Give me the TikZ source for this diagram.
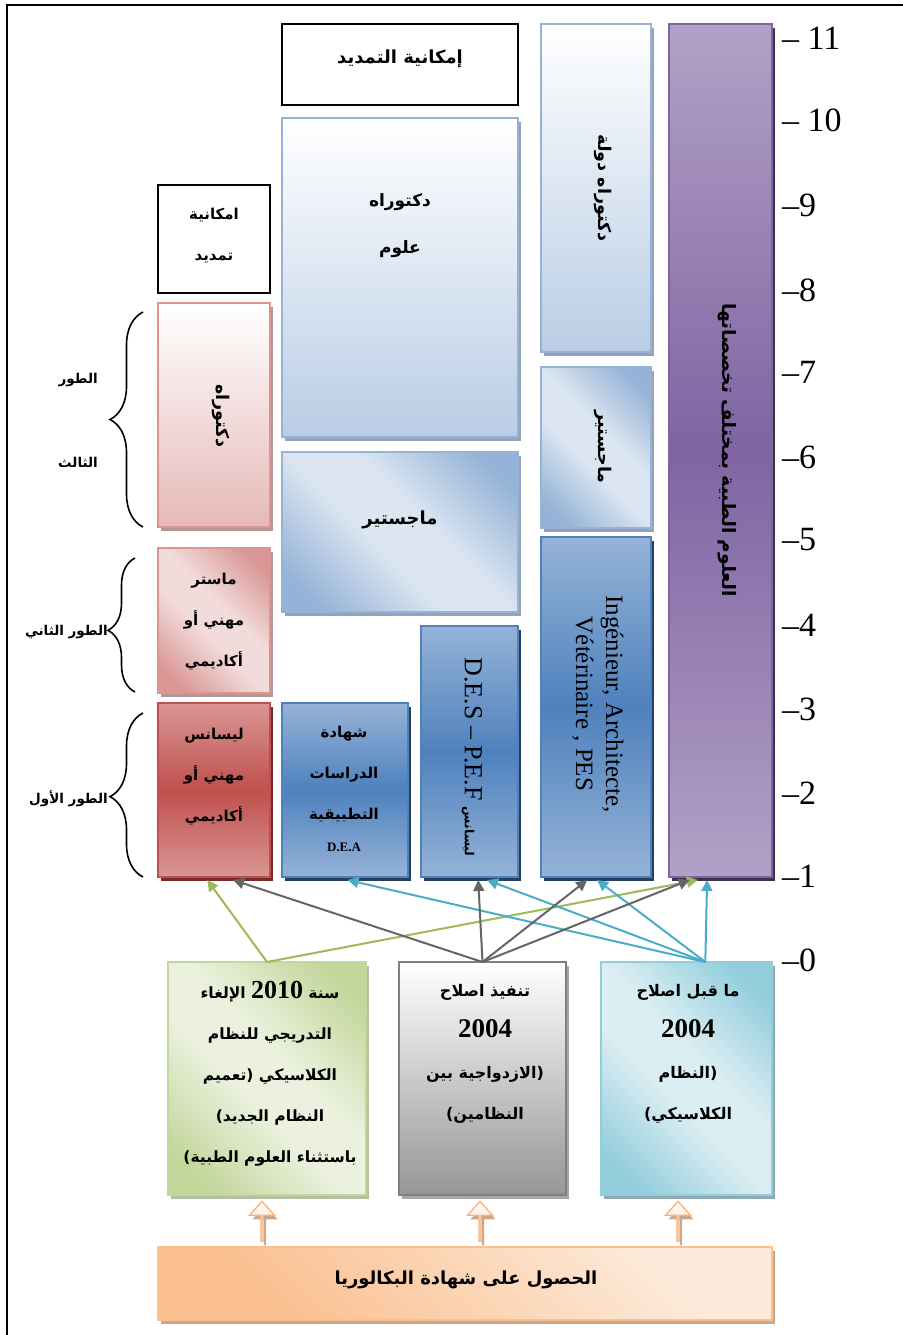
\documentclass[tikz,border=0pt]{standalone}
\usepackage{fontspec}
\setmainfont{Liberation Serif}
\newfontfamily\arb[Script=Arabic]{DejaVu Sans}
\TeXXeTstate=1
\usetikzlibrary{arrows.meta,calc,shadows,shapes.arrows,decorations.pathreplacing}

% palette
\definecolor{blueD}{HTML}{4F81BD}
\definecolor{blueM}{HTML}{95B3D7}
\definecolor{blueL}{HTML}{B9CDE5}
\definecolor{blueXL}{HTML}{DCE6F2}
\definecolor{redD}{HTML}{C0504D}
\definecolor{redM}{HTML}{D99694}
\definecolor{redL}{HTML}{E6B9B8}
\definecolor{redXL}{HTML}{F2DCDB}
\definecolor{greenD}{HTML}{9BBB59}
\definecolor{greenM}{HTML}{C3D69B}
\definecolor{greenXL}{HTML}{EBF1DE}
\definecolor{purD}{HTML}{8064A2}
\definecolor{purM}{HTML}{B2A1C7}
\definecolor{aquaD}{HTML}{4BACC6}
\definecolor{aquaM}{HTML}{92CDDC}
\definecolor{aquaXL}{HTML}{DBEEF3}
\definecolor{orgM}{HTML}{FAC090}
\definecolor{orgL}{HTML}{FCD5B5}
\definecolor{orgXL}{HTML}{FDEADA}
\definecolor{orgLine}{HTML}{F9B27B}
\definecolor{grayLine}{HTML}{7F7F7F}
\definecolor{grayM}{HTML}{969696}
\definecolor{arrGray}{HTML}{656565}
\definecolor{shBlue}{HTML}{243F60}
\definecolor{shRed}{HTML}{772C2A}
\definecolor{shPur}{HTML}{3F3151}
\definecolor{shLightBlue}{HTML}{95A3B6}
\definecolor{shPink}{HTML}{B89595}
\definecolor{shGreen}{HTML}{B5BFA3}
\definecolor{shGray}{HTML}{A6A6A6}
\definecolor{shAqua}{HTML}{8FAAB3}
\definecolor{shOrg}{HTML}{CBA88C}

% diagonal fills: darker corners, light band through the middle
\pgfdeclarehorizontalshading{diagblue}{100bp}{color(0bp)=(blueM); color(22bp)=(blueM); color(44bp)=(blueXL); color(56bp)=(blueXL); color(78bp)=(blueM); color(100bp)=(blueM)}
\pgfdeclarehorizontalshading{diagpink}{100bp}{color(0bp)=(redM); color(22bp)=(redM); color(44bp)=(redXL); color(56bp)=(redXL); color(78bp)=(redM); color(100bp)=(redM)}
\pgfdeclarehorizontalshading{diaggreen}{100bp}{color(0bp)=(greenM); color(22bp)=(greenM); color(44bp)=(greenXL); color(56bp)=(greenXL); color(78bp)=(greenM); color(100bp)=(greenM)}
\pgfdeclarehorizontalshading{diagaqua}{100bp}{color(0bp)=(aquaM); color(22bp)=(aquaM); color(44bp)=(aquaXL); color(56bp)=(aquaXL); color(78bp)=(aquaM); color(100bp)=(aquaM)}
\pgfdeclarehorizontalshading{diagorange}{100bp}{color(0bp)=(orgM); color(28bp)=(orgM); color(72bp)=(orgXL); color(100bp)=(orgXL)}

\newcommand\artxt[1]{{\arb\bfseries\beginR #1\endR}}

\tikzset{
  basebox/.style={rectangle, inner sep=0pt, outer sep=0pt, line width=1.8pt},
  shad/.style={drop shadow={shadow xshift=3pt, shadow yshift=-4pt, fill=#1, opacity=1}},
  plainbox/.style={basebox, draw=black, line width=1.5pt, fill=white},
  paleblue/.style={basebox, draw=blueM, top color=white, bottom color=blueL, shad=shLightBlue},
  diagbluebox/.style={basebox, draw=blueM, shading=diagblue, shading angle=45, shad=shLightBlue},
  deepblue/.style={basebox, draw=blueD, top color=blueM, bottom color=blueM, middle color=blueD, shad=shBlue},
  deepred/.style={basebox, draw=redD, top color=redM, bottom color=redM, middle color=redD, shad=shRed},
  palepink/.style={basebox, draw=redM, top color=white, bottom color=redL, shad=shPink},
  diagpinkbox/.style={basebox, draw=redM, shading=diagpink, shading angle=45, shad=shPink},
  purplebox/.style={basebox, draw=purD, top color=purM, bottom color=purM, middle color=purD, shad=shPur},
  greenbox/.style={basebox, draw=greenM, shading=diaggreen, shading angle=45, shad=shGreen},
  graybox/.style={basebox, draw=grayLine, top color=white, bottom color=grayM, shad=shGray},
  aquabox/.style={basebox, draw=aquaM, shading=diagaqua, shading angle=45, shad=shAqua},
  bacbox/.style={basebox, draw=orgM, shading=diagorange, shading angle=45, shad=shOrg},
  uparrow/.style={single arrow, shape border rotate=90, minimum height=40, minimum width=25,
    single arrow head extend=7pt, single arrow tip angle=84, inner sep=0pt,
    draw=orgLine, line width=1.3pt, top color=white, bottom color=orgL, shad=shOrg},
  txt/.style={inner sep=0pt, align=center, font=\fontsize{15}{41}\selectfont},
  rtxt/.style={inner sep=0pt, align=center, rotate=-90, font=\fontsize{17.5}{20}\selectfont},
  scalelbl/.style={inner sep=0pt, anchor=west, font=\fontsize{34}{34}\selectfont},
  bracelbl/.style={inner sep=0pt, font=\fontsize{13.5}{18}\selectfont},
  curly/.style={decorate, decoration={brace, amplitude=#1}, line width=1.6pt},
  conn/.style={draw=#1, line width=2pt, -{Triangle[length=11pt, width=11pt]}}
}

\begin{document}
\begin{tikzpicture}[x=1pt, y=-1pt]
\useasboundingbox (0,0) rectangle (902,1335);

% page frame
\draw[line width=2pt] (7,1345) -- (7,5) -- (912,5);

% extension boxes
\node[plainbox, minimum width=236, minimum height=81] (ext2) at (400,64.5) {};
\node[plainbox, minimum width=112, minimum height=108] (ext1) at (214,239) {};

% classic-system column
\node[paleblue, minimum width=236, minimum height=319] (docsci) at (400,277.5) {};
\node[diagbluebox, minimum width=236, minimum height=160] (magmid) at (400,532) {};
\node[deepblue, minimum width=97, minimum height=251] (des) at (469.5,751.5) {};
\node[deepblue, minimum width=126, minimum height=174] (dea) at (345,790) {};

% LMD column
\node[deepred, minimum width=112, minimum height=174] (lic) at (214,790) {};
\node[diagpinkbox, minimum width=112, minimum height=145] (mast) at (214,620.5) {};
\node[palepink, minimum width=112, minimum height=224] (docL) at (214,415) {};

% engineering column
\node[paleblue, minimum width=110, minimum height=328] (docst) at (596,188) {};
\node[diagbluebox, minimum width=110, minimum height=161] (magR) at (596,447.5) {};
\node[deepblue, minimum width=110, minimum height=340] (ing) at (596,707) {};

% medical column
\node[purplebox, minimum width=103, minimum height=853] (med) at (720.5,450.5) {};

% entry systems
\node[greenbox, minimum width=198, minimum height=233] (green) at (267,1078.5) {};
\node[graybox, minimum width=167, minimum height=233] (gray) at (482.5,1078.5) {};
\node[aquabox, minimum width=171, minimum height=233] (aqua) at (686.5,1078.5) {};

% baccalaureate
\node[bacbox, minimum width=614, minimum height=73] (bac) at (465,1283.5) {};
\node[uparrow] (ba1) at (262,1222) {};
\node[uparrow] (ba2) at (480,1222) {};
\node[uparrow] (ba3) at (678,1222) {};

% box texts
\node[txt, font=\fontsize{18}{22}\selectfont] (t-ext2) at (400,59) {\artxt{إمكانية التمديد}};
\node[txt] (t-ext1) at (214,236) {\artxt{امكانية}\\\artxt{تمديد}};
\node[txt, font=\fontsize{17}{41}\selectfont] (t-docsci) at (400,226) {\artxt{دكتوراه}\\[6pt]\artxt{علوم}};
\node[txt, font=\fontsize{18}{22}\selectfont] (t-magmid) at (400,520) {\artxt{ماجستير}};
\node[txt] (t-mast) at (214,622) {\artxt{ماستر}\\\artxt{مهني أو}\\\artxt{أكاديمي}};
\node[txt] (t-lic) at (214,777) {\artxt{ليسانس}\\\artxt{مهني أو}\\\artxt{أكاديمي}};
\node[txt] (t-dea) at (344,774) {\artxt{شهادة}\\\artxt{الدراسات}\\\artxt{التطبيقية}};
\node[txt, font=\bfseries\fontsize{13}{15}\selectfont] (t-dea2) at (344,847) {D.E.A};

\node[rtxt] (t-docL) at (221,416) {\artxt{دكتوراه}};
\node[rtxt] (t-docst) at (603,188) {\artxt{دكتوراه دولة}};
\node[rtxt] (t-magR) at (603,447) {\artxt{ماجستير}};
\node[rtxt, font=\fontsize{18.5}{20}\selectfont] (t-med) at (727,450) {\artxt{العلوم الطبية بمختلف تخصصاتها}};
\node[rtxt, font=\fontsize{26}{30}\selectfont] (t-des) at (472,757)
  {D.E.S -- P.E.F {\fontsize{12.5}{14}\selectfont\artxt{ليسانس}}};
\node[rtxt, font=\fontsize{25}{30}\selectfont] (t-ing) at (598,704)
  {Ingénieur, Architecte,\\Vétérinaire , PES};

\node[txt, font=\fontsize{15.5}{41}\selectfont] (t-green) at (270,1074)
  {\artxt{سنة \beginL{\rmfamily\bfseries\fontsize{26}{26}\selectfont 2010}\endL{} الإلغاء}\\
   \artxt{التدريجي للنظام}\\\artxt{الكلاسيكي (تعميم}\\\artxt{النظام الجديد)}\\
   \artxt{باستثناء العلوم الطبية)}};
\node[txt, font=\fontsize{16}{41}\selectfont] (t-gray) at (485,1054)
  {\artxt{تنفيذ اصلاح}\\{\bfseries\fontsize{27}{27}\selectfont 2004}\\\artxt{(الازدواجية بين}\\\artxt{النظامين)}};
\node[txt, font=\fontsize{16}{41}\selectfont] (t-aqua) at (688,1054)
  {\artxt{ما قبل اصلاح}\\{\bfseries\fontsize{27}{27}\selectfont 2004}\\\artxt{(النظام}\\\artxt{الكلاسيكي)}};
\node[txt, font=\fontsize{18}{22}\selectfont] (t-bac) at (466,1280) {\artxt{الحصول على شهادة البكالوريا}};

% cycle braces
\draw[curly=33pt] (143,527) -- (143,312);
\draw[curly=27pt, decoration={aspect=0.46}] (135,692) -- (135,558);
\draw[curly=33pt, decoration={aspect=0.49}] (143,877) -- (143,713);
\node[bracelbl, anchor=east] (c3a) at (98,380) {\artxt{الطور}};
\node[bracelbl, anchor=east] (c3b) at (98,462) {\artxt{الثالث}};
\node[bracelbl, anchor=east] (c2) at (108,632) {\artxt{الطور الثاني}};
\node[bracelbl, anchor=east] (c1) at (108,799) {\artxt{الطور الأول}};

% year scale
\foreach \lab/\yy/\nm in {{-- 11}/38/s11, {-- 10}/120/s10, --9/205/s9, --8/290/s8, --7/372/s7,
  --6/457/s6, --5/540/s5, --4/625/s4, --3/709/s3, --2/793/s2, --1/876/s1, --0/960/s0}
  \node[scalelbl] (\nm) at (782,\yy) {\lab};

% access paths
\coordinate (aquaTop) at ($(aqua.north west)!0.61!(aqua.north east)$);
\draw[conn=greenD] (green.north) -- ($(lic.south west)!0.44!(lic.south east)+(0,3)$);
\draw[conn=greenD] (green.north) -- ($(med.south west)!0.28!(med.south east)+(0,3)$);
\draw[conn=aquaD] (aquaTop) -- ($(dea.south west)!0.52!(dea.south east)+(0,3)$);
\draw[conn=aquaD] (aquaTop) -- ($(des.south west)!0.68!(des.south east)+(0,3)$);
\draw[conn=aquaD] (aquaTop) -- ($(ing.south west)!0.51!(ing.south east)+(0,3)$);
\draw[conn=aquaD] (aquaTop) -- ($(med.south west)!0.37!(med.south east)+(0,3)$);
\draw[conn=arrGray] (gray.north) -- ($(lic.south west)!0.67!(lic.south east)+(0,3)$);
\draw[conn=arrGray] (gray.north) -- ($(des.south west)!0.59!(des.south east)+(0,3)$);
\draw[conn=arrGray] (gray.north) -- ($(ing.south west)!0.42!(ing.south east)+(0,3)$);
\draw[conn=arrGray] (gray.north) -- ($(med.south west)!0.20!(med.south east)+(0,3)$);
\end{tikzpicture}
\end{document}
